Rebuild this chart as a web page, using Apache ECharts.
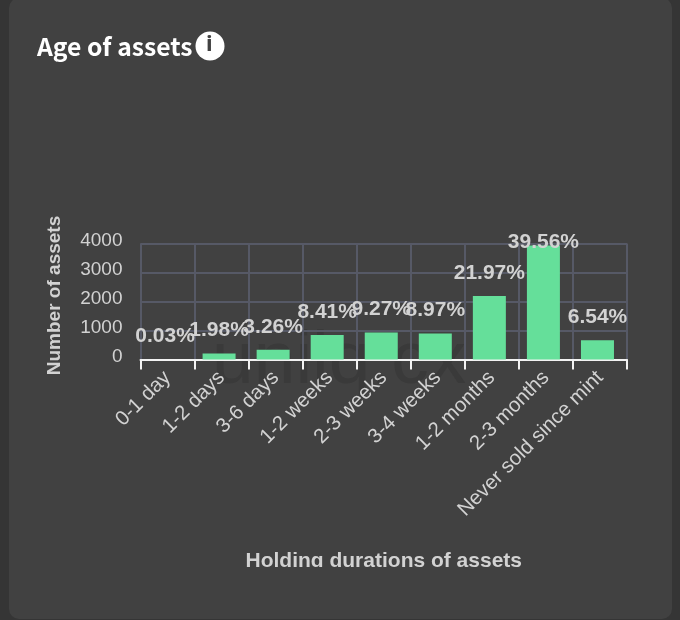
<!DOCTYPE html>
<html>
<head>
<meta charset="utf-8">
<script src="https://cdn.jsdelivr.net/npm/echarts@6/dist/echarts.min.js"></script>
<style>
  html,body{margin:0;padding:0;background:#353535;overflow:hidden;}
  #card{position:absolute;left:9px;top:-2px;width:663px;height:621px;background:#414141;border-radius:10px;}
  #chart{position:absolute;left:0;top:0;width:680px;height:620px;}
</style>
</head>
<body>
<div id="card"></div>
<div id="chart"></div>
<script>
const categories = ['0-1 day','1-2 days','3-6 days','1-2 weeks','2-3 weeks','3-4 weeks','1-2 months','2-3 months','Never sold since mint']
const assetCounts = [3,205,335,845,930,900,2190,3935,660]
const shares = ['0.03%','1.98%','3.26%','8.41%','9.27%','8.97%','21.97%','39.56%','6.54%']
const yTicks = [0,1000,2000,3000,4000]

const textColor = '#d2d2d2'
const gridColor = '#565966'
const sans = '"Liberation Sans", Arial, sans-serif'

let myChart = echarts.init(document.getElementById('chart'))
myChart.setOption({
  animation:false,
  backgroundColor:'transparent',
  grid:{left:140.5,right:53,top:243.5,height:116},
  xAxis:[{
    type:'category',
    data:categories,
    axisLine:{lineStyle:{color:'#f2f2f2',width:2}},
    axisTick:{show:true,alignWithLabel:false,length:10,lineStyle:{color:'#f2f2f2',width:2}},
    splitLine:{show:true,lineStyle:{color:gridColor,width:2}},
    axisLabel:{interval:0,rotate:45,color:textColor,fontFamily:sans,fontSize:20.5,margin:15},
    name:'Holding durations of assets',
    nameLocation:'middle',
    nameGap:191,
    nameTextStyle:{color:textColor,fontFamily:sans,fontSize:21,fontWeight:'bold'}
  }],
  yAxis:[{
    type:'value',
    min:0,
    max:4000,
    interval:1000,
    axisLine:{show:false},
    axisTick:{show:false},
    splitLine:{show:true,lineStyle:{color:gridColor,width:2}},
    axisLabel:{color:textColor,fontFamily:sans,fontSize:19,margin:18,verticalAlign:'bottom',lineHeight:6,
      formatter:function(v){return yTicks.indexOf(v)>=0?String(v):''}},
    name:'Number of assets',
    nameLocation:'middle',
    nameGap:76,
    nameTextStyle:{color:textColor,fontFamily:sans,fontSize:19,fontWeight:'bold',padding:[0,0,0,12]}
  }],
  series:[{
    type:'bar',
    barGap:0,
    barWidth:33,
    itemStyle:{color:'#65df9a'},
    label:{
      show:true,
      position:'top',
      distance:12.5,
      color:textColor,
      fontFamily:sans,
      fontSize:21,
      fontWeight:'bold',
      formatter:function(p){return shares[p.dataIndex]}
    },
    // the tallest label is held at the top of the plot in the reference
    data:assetCounts.map(function(v,i){
      return i===7 ? {value:v,label:{offset:[0,20]}} : v
    })
  },{
    // empty slot, bars sit a little left of the category centre
    type:'bar',
    barWidth:5,
    data:[]
  }],
  graphic:[
    // the reference crops the axis name right under the baseline
    {type:'rect',z:100,shape:{x:20,y:567,width:640,height:12},style:{fill:'#414141'}},
    {type:'text',z:100,left:37,top:34,style:{text:'Age of assets',fill:'#ffffff',font:'bold 24.7px "Noto Sans CJK JP"'}},
    {type:'circle',z:100,shape:{cx:210,cy:46,r:14.5},style:{fill:'#ffffff'}},
    {type:'text',z:101,left:206,top:34,style:{text:'i',fill:'#414141',font:'bold 22px "Noto Sans"'}},
    {type:'text',z:-1,left:212,top:325,style:{text:'uniiq.cx',fill:'#3a3a3a',font:'75px "Liberation Sans"'}}
  ]
})
</script>
</body>
</html>
